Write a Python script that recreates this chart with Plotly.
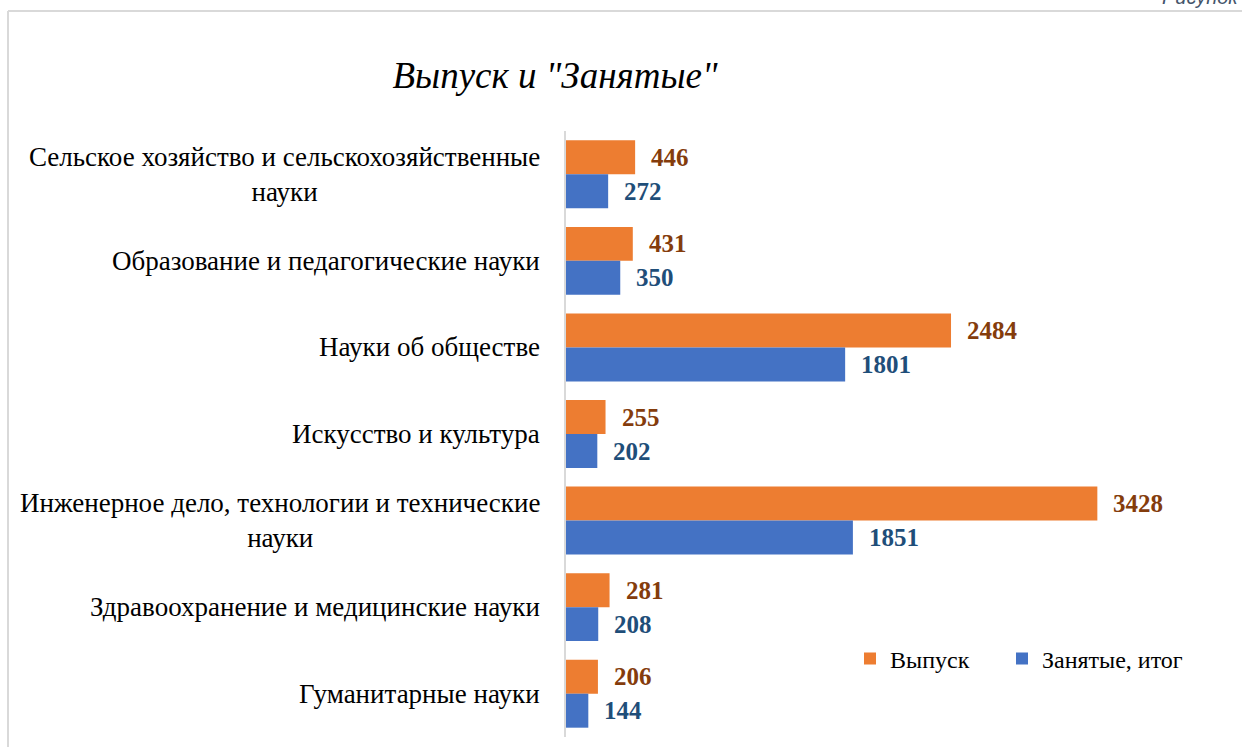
import plotly.graph_objects as go

categories = [
    "Сельское хозяйство и сельскохозяйственные<br>науки",
    "Образование и педагогические науки",
    "Науки об обществе",
    "Искусство и культура",
    "Инженерное дело, технологии и технические<br>науки",
    "Здравоохранение и медицинские науки",
    "Гуманитарные науки",
]
vypusk = [446, 431, 2484, 255, 3428, 281, 206]
zanyatye = [272, 350, 1801, 202, 1851, 208, 144]
series_names = ["Выпуск", "Занятые, итог"]

ORANGE = "#ED7D31"
BLUE = "#4472C4"
ORANGE_LBL = "#843C0C"
BLUE_LBL = "#1F4E79"
FONT = "Liberation Serif"

fig = go.Figure()
fig.add_trace(go.Bar(y=categories, x=vypusk, orientation="h", name=series_names[0],
                     marker=dict(color=ORANGE, line=dict(width=0)), legend="legend"))
fig.add_trace(go.Bar(y=categories, x=zanyatye, orientation="h", name=series_names[1],
                     marker=dict(color=BLUE, line=dict(width=0)), legend="legend2"))

annotations = []
for c, v1, v2 in zip(categories, vypusk, zanyatye):
    annotations.append(dict(x=v1, y=c, xref="x", yref="y", text=f"<b>{v1}</b>", showarrow=False,
                            xanchor="left", yanchor="middle", xshift=14, yshift=17,
                            font=dict(family=FONT, size=25, color=ORANGE_LBL)))
    annotations.append(dict(x=v2, y=c, xref="x", yref="y", text=f"<b>{v2}</b>", showarrow=False,
                            xanchor="left", yanchor="middle", xshift=14, yshift=-17,
                            font=dict(family=FONT, size=25, color=BLUE_LBL)))
    annotations.append(dict(x=0, y=c, xref="x", yref="y", text=c, showarrow=False,
                            xanchor="right", yanchor="middle", xshift=-24, align="center",
                            font=dict(family=FONT, size=27, color="#000000")))

annotations.append(dict(x=1.0, y=1.0, xref="paper", yref="paper", text="<i>Рисунок</i>", showarrow=False,
                        xanchor="right", yanchor="middle", xshift=55, yshift=134,
                        font=dict(family="Liberation Sans", size=20, color="#44546A"),
                        ))

legend_common = dict(orientation="h", yanchor="middle", xanchor="left",
                     font=dict(family=FONT, size=24, color="#000000"),
                     bgcolor="rgba(0,0,0,0)")

fig.update_layout(
    width=1242, height=747,
    margin=dict(l=566, r=56, t=131, b=10),
    paper_bgcolor="white", plot_bgcolor="white",
    barmode="group", bargap=0.215, bargroupgap=0,
    title=dict(text="<i>Выпуск и \"Занятые\"</i>", x=555 / 1242, xanchor="center",
               y=1 - 75 / 747, yanchor="middle",
               font=dict(family=FONT, size=37, color="#000000")),
    xaxis=dict(range=[0, 4000], showgrid=False, zeroline=False, showticklabels=False,
               showline=False, ticks=""),
    yaxis=dict(autorange="reversed", showticklabels=False, showgrid=False, zeroline=False,
               showline=True, linecolor="#D9D9D9", linewidth=2, ticks=""),
    legend=dict(x=(850 - 566) / 620, y=(737 - 659) / 606, **legend_common),
    legend2=dict(x=(1002 - 566) / 620, y=(737 - 659) / 606, **legend_common),
    showlegend=True,
    annotations=annotations,
    shapes=[
        dict(type="line", xref="paper", yref="paper", x0=(8 - 566) / 620, x1=(8 - 566) / 620,
             y0=(737 - 760) / 606, y1=(737 - 11) / 606, line=dict(color="#D9D9D9", width=2)),
        dict(type="line", xref="paper", yref="paper", x0=(8 - 566) / 620, x1=(1250 - 566) / 620,
             y0=(737 - 11) / 606, y1=(737 - 11) / 606, line=dict(color="#D9D9D9", width=2)),
    ],
)

fig.write_html("out.html", config={"displayModeBar": False},
               post_script="document.body.style.margin='0';document.body.style.overflow='hidden';")
